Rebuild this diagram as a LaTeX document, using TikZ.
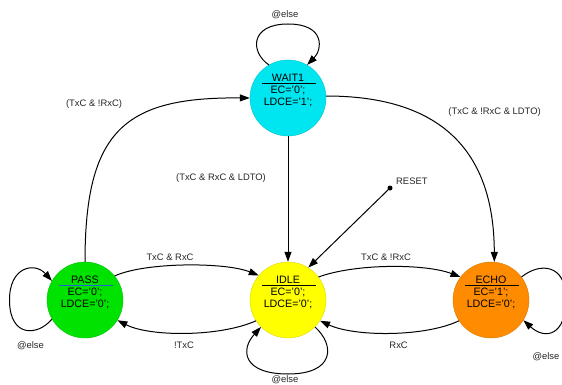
\documentclass[tikz,border=0pt]{standalone}
\usepackage{fontspec}
\setmainfont{Liberation Sans}
\usetikzlibrary{arrows.meta}
\definecolor{cwait}{RGB}{0,230,240}
\definecolor{cpass}{RGB}{0,226,0}
\definecolor{cidle}{RGB}{255,255,0}
\definecolor{cecho}{RGB}{255,140,0}
\definecolor{cblue}{RGB}{40,90,220}
\begin{document}
\begin{tikzpicture}[x=1pt,y=-1pt,
  stnode/.style={circle,minimum size=76pt,inner sep=0pt,draw=#1!85!black,line width=0.4pt,fill=#1},
  stxt/.style={anchor=base,inner sep=0pt,font=\fontsize{10.7}{12}\selectfont},
  lbl/.style={inner sep=0pt,font=\fontsize{9.4}{11}\selectfont,text=black!85},
  conn/.style={line width=1pt,-{Triangle[length=10pt,width=7pt]}},
  uline/.style={line width=0.9pt},
]
\clip (0,0) rectangle (562,385);
\useasboundingbox (0,0) rectangle (562,385);

% states
\node[stnode=cwait] (wait) at (288,98) {};
\node[stnode=cpass] (pass) at (85,300) {};
\node[stnode=cidle] (idle) at (288,300) {};
\node[stnode=cecho] (echo) at (491,300) {};

% state texts
\node[stxt] (waitT) at (288,81.25) {WAIT1};
\draw[uline] (262,83.5) -- (316,83.5);
\node[stxt] (waitA) at (288,93.75) {EC='0';};
\node[stxt] (waitB) at (288,105.25) {LDCE='1';};

\node[stxt] (passT) at (85,283.25) {PASS};
\draw[uline,cblue] (59,285.5) -- (113,285.5);
\node[stxt] (passA) at (85,295.75) {EC='0';};
\node[stxt] (passB) at (85,307.25) {LDCE='0';};

\node[stxt] (idleT) at (288,283.25) {IDLE};
\draw[uline] (262,285.5) -- (316,285.5);
\node[stxt] (idleA) at (288,295.75) {EC='0';};
\node[stxt] (idleB) at (288,307.25) {LDCE='0';};

\node[stxt] (echoT) at (491,283.25) {ECHO};
\draw[uline] (465,285.5) -- (519,285.5);
\node[stxt] (echoA) at (491,295.75) {EC='1';};
\node[stxt] (echoB) at (491,307.25) {LDCE='0';};

% reset point
\coordinate (reset) at (390,188);
\fill (reset) circle (2.5pt);

% transitions
\draw[conn] (wait.120) .. controls (250,52) and (250,24) .. (288,24)
                       .. controls (326,24) and (322,50) .. (wait.60);
\draw[conn] (pass.north) .. controls (85,130) and (125,97) .. (wait.west);
\draw[conn] (wait.3) .. controls (440,96) and (494,150) .. (echo.85);
\draw[conn] (wait.south) -- (idle.north);
\draw[conn] (reset) -- (idle.58);
\draw[conn] (pass.39) .. controls (145,262) and (225,262) .. (idle.140);
\draw[conn] (idle.213) .. controls (220,337) and (150,337) .. (pass.-32);
\draw[conn] (idle.37) .. controls (355,263.5) and (425,263.5) .. (echo.143);
\draw[conn] (echo.213) .. controls (425,337) and (355,337) .. (idle.-33);
\draw[conn] (pass.210) .. controls (38,336) and (10,338) .. (9.5,301)
                       .. controls (9,266) and (35,262) .. (pass.150);
\draw[conn] (idle.-45) .. controls (335,345) and (335,374) .. (288,374)
                       .. controls (243,374) and (240,350) .. (idle.-135);
\draw[conn] (echo.37) .. controls (540,262) and (566,264) .. (566,299)
                      .. controls (566,336) and (545,340) .. (echo.-32);

% labels
\node[lbl] (l1) at (285,15) {@else};
\node[lbl] (l2) at (94,104) {(TxC \& !RxC)};
\node[lbl] (l3) at (494.6,112) {(TxC \& !RxC \& LDTO)};
\node[lbl] (l4) at (221,178) {(TxC \& RxC \& LDTO)};
\node[lbl,anchor=west] (l5) at (396,181) {RESET};
\node[lbl] (l6) at (170,257) {TxC \& RxC};
\node[lbl] (l7) at (386,257) {TxC \& !RxC};
\node[lbl] (l8) at (184,345.7) {!TxC};
\node[lbl] (l9) at (398.6,345.7) {RxC};
\node[lbl] (l10) at (30.5,345.7) {@else};
\node[lbl] (l11) at (285,379.5) {@else};
\node[lbl] (l12) at (546,356.7) {@else};
\end{tikzpicture}
\end{document}
